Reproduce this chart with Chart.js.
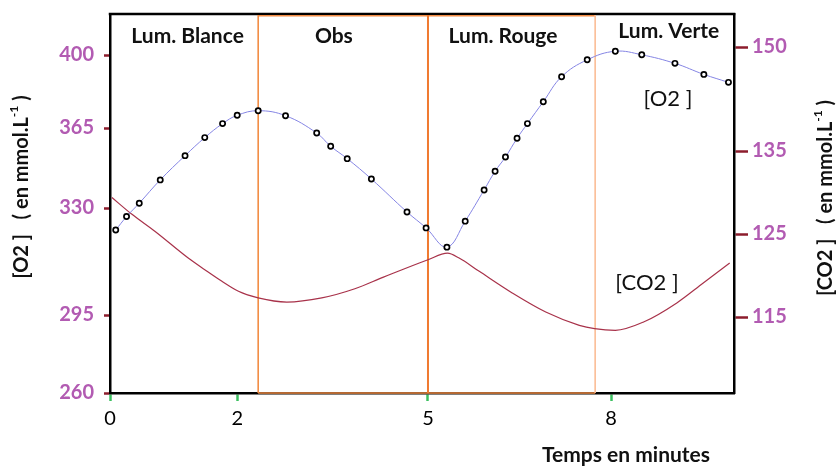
<!DOCTYPE html>
<html><head><meta charset="utf-8">
<script src="https://cdn.jsdelivr.net/npm/chart.js@4.4.1/dist/chart.umd.min.js"></script>
<style>html,body{margin:0;padding:0;background:#fff;}#wrap{width:838px;height:469px;}</style>
</head><body><div id="wrap"><canvas id="c" width="838" height="469"></canvas></div>
<script>
// ---- data ----
const timeO2 = [0.09,0.26,0.46,0.79,1.18,1.49,1.77,2.00,2.33,2.76,3.25,3.47,3.73,4.11,4.67,4.97,5.31,5.61,5.92,6.10,6.27,6.46,6.63,6.89,7.19,7.61,8.07,8.50,9.04,9.51,9.91];
const valuesO2 = [322.8,327.2,332.1,342.3,352.9,360.8,367.1,371.1,373.3,370.9,362.8,357.0,351.6,342.7,328.7,323.5,317.2,325.7,337.9,346.1,352.3,360.5,367.1,377.6,389.6,397.7,401.8,400.1,396.0,390.7,386.9];
const timeCO2 = [0.03,0.34,0.71,1.23,1.49,1.76,2.02,2.33,2.78,3.33,3.85,4.30,5.00,5.32,5.51,5.84,6.38,6.93,7.48,7.73,8.07,8.53,9.07,9.50,9.93];
const valuesCO2 = [129.4,127.4,125.3,122.1,120.7,119.3,118.1,117.3,116.8,117.3,118.4,119.8,121.9,122.7,122.1,120.5,117.9,115.6,114.0,113.6,113.4,114.4,116.7,119.1,121.5];
const xTicks = [0,2,5,8];
const o2Ticks = [260,295,330,365,400];
const co2Ticks = [115,125,135,150];
const phaseBounds = [0,2.33,5,7.74,10];
const phaseNames = ['Lum. Blance','Obs','Lum. Rouge','Lum. Verte'];
const seriesNames = ['[O2 ]','[CO2 ]'];
const xTitle = 'Temps en minutes';

// ---- piecewise-linear scale (axis graduations of the original are unevenly spaced) ----
class PiecewiseScale extends Chart.LinearScale {
  static id = 'piecewise';
  _frac(v){
    const b=this.options.breaks; let i=1;
    while(i<b.length-1 && v>b[i][0]) i++;
    const [v0,f0]=b[i-1],[v1,f1]=b[i];
    return f0+(v-v0)*(f1-f0)/(v1-v0);
  }
  getPixelForValue(v){
    if(v===null||v===undefined||isNaN(v)) return NaN;
    return this.getPixelForDecimal(this._frac(v));
  }
  getValueForPixel(p){
    const f=this.getDecimalForPixel(p), b=this.options.breaks; let i=1;
    while(i<b.length-1 && f>b[i][1]) i++;
    const [v0,f0]=b[i-1],[v1,f1]=b[i];
    return v0+(f-f0)*(v1-v0)/(f1-f0);
  }
}
Chart.register(PiecewiseScale);

const PURPLE='#b25bb2', DARKRED='#8c1c2c', GREEN='#3cc060';
const numFont={family:'Lato',size:20,weight:'bold'};
const noPad=s=>{s.paddingTop=0;s.paddingBottom=0;s.paddingLeft=0;s.paddingRight=0;};

const phasePlugin={
  id:'phases',
  beforeDatasetsDraw(chart){
    const {ctx,chartArea:a,scales:{x}}=chart;
    ctx.save();
    ctx.strokeStyle='#000'; ctx.lineWidth=2.5;
    ctx.beginPath(); ctx.moveTo(a.left-1.25,a.top); ctx.lineTo(a.right+1.25,a.top); ctx.stroke();
    const p1=x.getPixelForValue(phaseBounds[1]), p2=x.getPixelForValue(phaseBounds[2]), p3=x.getPixelForValue(phaseBounds[3]);
    ctx.lineWidth=1.6; ctx.strokeStyle='#f28c44';
    ctx.beginPath(); ctx.moveTo(p1,a.top+1.8); ctx.lineTo(p3,a.top+1.8); ctx.stroke();
    ctx.beginPath(); ctx.moveTo(p1,a.bottom); ctx.lineTo(p3,a.bottom); ctx.stroke();
    ctx.beginPath(); ctx.moveTo(p1,a.top+1); ctx.lineTo(p1,a.bottom); ctx.stroke();
    ctx.lineWidth=2; ctx.strokeStyle='#f07a30';
    ctx.beginPath(); ctx.moveTo(p2,a.top+1); ctx.lineTo(p2,a.bottom); ctx.stroke();
    ctx.lineWidth=1.6; ctx.strokeStyle='#fbbd96';
    ctx.beginPath(); ctx.moveTo(p3,a.top+1); ctx.lineTo(p3,a.bottom); ctx.stroke();
    ctx.restore();
  }
};

function drawParts(ctx,parts){
  let total=0;
  parts.forEach(p=>{ctx.font=p[1]; p.w=ctx.measureText(p[0]).width; total+=p.w;});
  let x=-total/2;
  parts.forEach(p=>{ctx.font=p[1]; ctx.fillText(p[0],x,p[2]||0); x+=p.w;});
}

const textPlugin={
  id:'texts',
  afterDraw(chart){
    const {ctx,scales:{x}}=chart;
    ctx.save();
    ctx.fillStyle='#111'; ctx.textAlign='center'; ctx.textBaseline='alphabetic';
    ctx.font='bold 21px Lato';
    const labX=[1.22,3.52,6.23,8.94], labY=[43,43,43,38];
    phaseNames.forEach((n,i)=>ctx.fillText(n,x.getPixelForValue(labX[i]),labY[i]));
    ctx.font='22px Lato';
    ctx.textBaseline='middle';
    ctx.fillText(seriesNames[0],668,99);
    ctx.fillText(seriesNames[1],647,283);
    ctx.font='bold 21px Lato';
    ctx.textBaseline='alphabetic';
    ctx.fillText(xTitle,626,462);
    const B='bold 20px Lato', S='bold 12px Lato';
    ctx.textAlign='left'; ctx.textBaseline='middle';
    ctx.save(); ctx.translate(22,187); ctx.rotate(-Math.PI/2);
    drawParts(ctx,[[seriesNames[0],B],['   ( en mmol.L',B],['-1',S,-8],[' )',B]]);
    ctx.restore();
    ctx.save(); ctx.translate(826,198); ctx.rotate(-Math.PI/2);
    drawParts(ctx,[[seriesNames[1],B],['   ( en mmol.L',B],['-1',S,-8],[' )',B]]);
    ctx.restore();
    ctx.restore();
  }
};

new Chart(document.getElementById('c'),{
  type:'line',
  data:{datasets:[
    {label:'[O2]',data:timeO2.map((t,i)=>({x:t,y:valuesO2[i]})),yAxisID:'yO2',xAxisID:'x',
     borderColor:'#8585e4',borderWidth:1,tension:0.4,pointRadius:2.6,pointBorderWidth:1.7,
     pointBorderColor:'#000',pointBackgroundColor:'#fff'},
    {label:'[CO2]',data:timeCO2.map((t,i)=>({x:t,y:valuesCO2[i]})),yAxisID:'yCO2',xAxisID:'x',
     borderColor:'#a8324a',borderWidth:1.2,cubicInterpolationMode:'monotone',pointRadius:0}
  ]},
  options:{
    responsive:false,animation:false,
    layout:{padding:{top:14,left:0,right:0,bottom:0}},
    plugins:{legend:{display:false},tooltip:{enabled:false}},
    scales:{
      x:{type:'piecewise',position:'bottom',min:0,max:10,
        breaks:[[0,0],[5,0.5096],[8,0.8029],[10,1]],
        afterBuildTicks:s=>{s.ticks=xTicks.map(v=>({value:v}));},
        afterFit:s=>{s.height=76;noPad(s);},
        grid:{drawOnChartArea:false,drawTicks:true,tickLength:8,tickColor:GREEN,tickWidth:2.5},
        border:{display:true,color:'#000',width:2.5},
        ticks:{color:'#000',font:{family:'Lato',size:20},padding:6,maxRotation:0,autoSkip:false}
      },
      yO2:{type:'piecewise',position:'left',min:260,max:419.66,
        breaks:[[260,0],[295,0.2058],[330,0.4881],[365,0.6992],[400,0.8918],[419.66,1]],
        afterBuildTicks:s=>{s.ticks=o2Ticks.map(v=>({value:v}));},
        afterFit:s=>{s.width=110;noPad(s);},
        grid:{drawOnChartArea:false,drawTicks:true,tickLength:6,tickColor:DARKRED,tickWidth:2.5},
        border:{display:true,color:'#000',width:2.5},
        ticks:{color:PURPLE,font:numFont,padding:10,autoSkip:false}
      },
      yCO2:{type:'piecewise',position:'right',min:105.84,max:154.76,
        breaks:[[105.84,0],[115,0.2005],[125,0.4195],[135,0.6385],[150,0.9129],[154.76,1]],
        afterBuildTicks:s=>{s.ticks=co2Ticks.map(v=>({value:v}));},
        afterFit:s=>{s.width=104;noPad(s);},
        grid:{drawOnChartArea:false,drawTicks:true,tickLength:14,tickColor:DARKRED,tickWidth:2.5},
        border:{display:true,color:'#000',width:2.5},
        ticks:{color:PURPLE,font:numFont,padding:4,autoSkip:false}
      }
    }
  },
  plugins:[phasePlugin,textPlugin]
});
</script></body></html>
